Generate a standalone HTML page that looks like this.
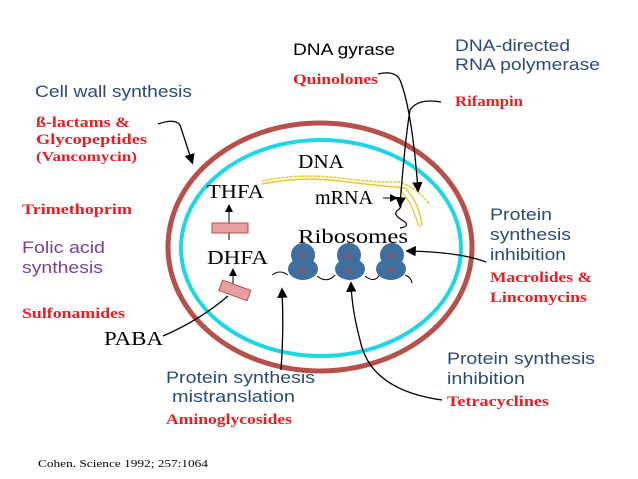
<!DOCTYPE html>
<html><head><style>
body{margin:0;background:#fff;}
svg{display:block;}
.s{font-family:"Liberation Sans",sans-serif;}
.r{font-family:"Liberation Serif",serif;font-weight:bold;fill:#e31e24;}
.b{font-family:"Liberation Serif",serif;fill:#000;}
</style></head><body>
<svg width="638" height="479" viewBox="0 0 638 479">
<defs><marker id="a" markerWidth="8" markerHeight="8" refX="6" refY="4" orient="auto"><path d="M0,0 L8,4 L0,8 z" fill="#000"/></marker></defs>
<ellipse cx="320" cy="247" rx="152" ry="124" fill="none" stroke="#b5504a" stroke-width="5"/>
<ellipse cx="321" cy="248" rx="140" ry="108" fill="none" stroke="#1fd6e6" stroke-width="4"/>
<path d="M262,181 Q300,173 340,178 T400,182 Q420,190 430,205" fill="none" stroke="#e8c830" stroke-width="1.5" stroke-dasharray="3 1"/>
<path d="M262,184 Q300,176 340,181 T405,188 Q418,200 422,225" fill="none" stroke="#e8c830" stroke-width="1.5"/>
<path d="M400,190 Q410,200 415,215 T420,225" fill="none" stroke="#e8c830" stroke-width="1.2"/>
<path d="M398,200 q6,6 0,10 t4,10 t-2,8" fill="none" stroke="#000" stroke-width="1.2"/>
<text x="298" y="168" class="b" font-size="20" textLength="46" lengthAdjust="spacingAndGlyphs">DNA</text>
<text x="315" y="204" class="b" font-size="20" textLength="58" lengthAdjust="spacingAndGlyphs">mRNA</text>
<line x1="383" y1="198" x2="396" y2="198" stroke="#000" marker-end="url(#a)"/>
<text x="298" y="243" class="b" font-size="20" textLength="110" lengthAdjust="spacingAndGlyphs">Ribosomes</text>
<text x="207" y="198" class="b" font-size="20" textLength="57" lengthAdjust="spacingAndGlyphs">THFA</text>
<text x="207" y="264" class="b" font-size="20" textLength="61" lengthAdjust="spacingAndGlyphs">DHFA</text>
<line x1="229" y1="240" x2="229" y2="206" stroke="#000" marker-end="url(#a)"/>
<rect x="212" y="223" width="36" height="10" fill="#e7a0a0" stroke="#b5504a"/>
<line x1="233" y1="285" x2="233" y2="270" stroke="#000" marker-end="url(#a)"/>
<rect x="220" y="285" width="30" height="11" fill="#e7a0a0" stroke="#b5504a" transform="rotate(20 235 290)"/>
<text x="104" y="345" class="b" font-size="20" textLength="59" lengthAdjust="spacingAndGlyphs">PABA</text>
<path d="M163,336 Q200,320 228,296" fill="none" stroke="#000" stroke-width="1.3"/>
<path d="M272,275 q8,-6 16,0 M317,276 q10,8 18,-1 M365,276 q10,8 15,-2 M405,275 q6,2 7,8" fill="none" stroke="#000"/>
<g fill="#3f6f9f">
<ellipse cx="303" cy="255" rx="12" ry="12"/><ellipse cx="303" cy="269" rx="15" ry="11"/>
<ellipse cx="349" cy="255" rx="12" ry="12"/><ellipse cx="350" cy="269" rx="15" ry="11"/>
<ellipse cx="392" cy="255" rx="12" ry="12"/><ellipse cx="391" cy="269" rx="15" ry="11"/>
</g>
<g font-family="Liberation Serif" font-size="7" fill="#c0404a" font-weight="bold">
<text x="298" y="258">50</text><text x="298" y="273">30</text>
<text x="344" y="258">50</text><text x="344" y="273">30</text>
<text x="387" y="258">50</text><text x="387" y="273">30</text>
</g>
<g lengthAdjust="spacingAndGlyphs">
<text x="35" y="97" class="s" font-size="17" fill="#2a4a7a" textLength="157" lengthAdjust="spacingAndGlyphs">Cell wall synthesis</text>
<text x="36" y="127" class="r" font-size="15" textLength="94" lengthAdjust="spacingAndGlyphs">ß-lactams &amp;</text>
<text x="36" y="144" class="r" font-size="15" textLength="111" lengthAdjust="spacingAndGlyphs">Glycopeptides</text>
<text x="36" y="161" class="r" font-size="14" textLength="101" lengthAdjust="spacingAndGlyphs">(Vancomycin)</text>
<path d="M158,124 Q175,118 180,125 Q185,140 192,162" fill="none" stroke="#000" stroke-width="1.3" marker-end="url(#a)"/>
<text x="22" y="214" class="r" font-size="15" textLength="110" lengthAdjust="spacingAndGlyphs">Trimethoprim</text>
<text x="22" y="253" class="s" font-size="17" fill="#7a3f9a" textLength="83" lengthAdjust="spacingAndGlyphs">Folic acid</text>
<text x="22" y="273" class="s" font-size="17" fill="#7a3f9a" textLength="81" lengthAdjust="spacingAndGlyphs">synthesis</text>
<text x="22" y="318" class="r" font-size="15" textLength="103" lengthAdjust="spacingAndGlyphs">Sulfonamides</text>
<text x="293" y="55" class="s" font-size="17" fill="#000" textLength="102" lengthAdjust="spacingAndGlyphs">DNA gyrase</text>
<text x="293" y="84" class="r" font-size="15" textLength="85" lengthAdjust="spacingAndGlyphs">Quinolones</text>
<path d="M378,74 Q395,70 400,80 Q412,110 418,190" fill="none" stroke="#000" stroke-width="1.3" marker-end="url(#a)"/>
<text x="455" y="51" class="s" font-size="17" fill="#2a4a7a" textLength="115" lengthAdjust="spacingAndGlyphs">DNA-directed</text>
<text x="455" y="70" class="s" font-size="17" fill="#2a4a7a" textLength="145" lengthAdjust="spacingAndGlyphs">RNA polymerase</text>
<text x="455" y="106" class="r" font-size="15" textLength="68" lengthAdjust="spacingAndGlyphs">Rifampin</text>
<path d="M441,102 Q418,98 410,110 Q405,140 400,205" fill="none" stroke="#000" stroke-width="1.3" marker-end="url(#a)"/>
<text x="490" y="220" class="s" font-size="17" fill="#2a4a7a" textLength="62" lengthAdjust="spacingAndGlyphs">Protein</text>
<text x="490" y="240" class="s" font-size="17" fill="#2a4a7a" textLength="81" lengthAdjust="spacingAndGlyphs">synthesis</text>
<text x="490" y="260" class="s" font-size="17" fill="#2a4a7a" textLength="76" lengthAdjust="spacingAndGlyphs">inhibition</text>
<text x="490" y="282" class="r" font-size="15" textLength="102" lengthAdjust="spacingAndGlyphs">Macrolides &amp;</text>
<text x="490" y="302" class="r" font-size="15" textLength="97" lengthAdjust="spacingAndGlyphs">Lincomycins</text>
<path d="M486,262 Q460,252 408,251" fill="none" stroke="#000" stroke-width="1.3" marker-end="url(#a)"/>
<text x="447" y="364" class="s" font-size="17" fill="#2a4a7a" textLength="148" lengthAdjust="spacingAndGlyphs">Protein synthesis</text>
<text x="447" y="384" class="s" font-size="17" fill="#2a4a7a" textLength="78" lengthAdjust="spacingAndGlyphs">inhibition</text>
<text x="447" y="406" class="r" font-size="15" textLength="102" lengthAdjust="spacingAndGlyphs">Tetracyclines</text>
<path d="M442,400 Q370,390 360,340 Q352,310 351,284" fill="none" stroke="#000" stroke-width="1.3" marker-end="url(#a)"/>
<text x="166" y="383" class="s" font-size="17" fill="#2a4a7a" textLength="149" lengthAdjust="spacingAndGlyphs">Protein synthesis</text>
<text x="172" y="402" class="s" font-size="17" fill="#2a4a7a" textLength="123" lengthAdjust="spacingAndGlyphs">mistranslation</text>
<text x="166" y="424" class="r" font-size="15" textLength="126" lengthAdjust="spacingAndGlyphs">Aminoglycosides</text>
<path d="M281,370 Q284,330 282,290" fill="none" stroke="#000" stroke-width="1.3" marker-end="url(#a)"/>
<text x="38" y="467" class="b" font-size="11" textLength="170" lengthAdjust="spacingAndGlyphs">Cohen. Science 1992; 257:1064</text>
</g>
</svg>
</body></html>
